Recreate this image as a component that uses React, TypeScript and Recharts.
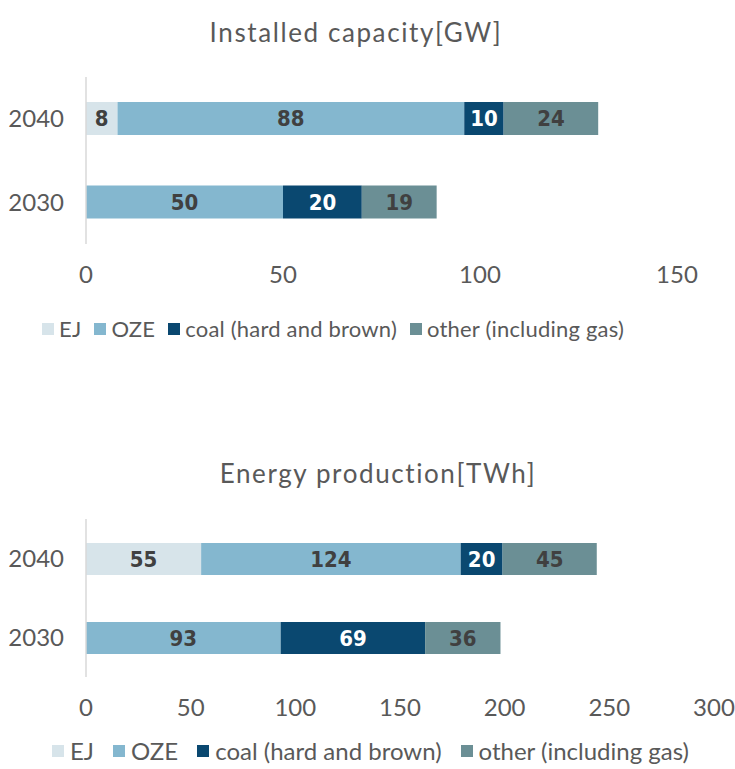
import React from "react";
import { Bar, BarChart, LabelList, XAxis, YAxis } from "recharts";

const years = ["2040", "2030"];

const seriesNames = ["EJ", "OZE", "coal (hard and brown)", "other (including gas)"];
const seriesKeys = ["ej", "oze", "coal", "other"];
const seriesColors = ["#d7e4ea", "#84b7cf", "#0a4870", "#6b8f95"];
const labelColors = ["#404040", "#404040", "#ffffff", "#404040"];

// installed capacity [GW], per year (2040, 2030)
const capEj = [8, 0];
const capOze = [88, 50];
const capCoal = [10, 20];
const capOther = [24, 19];
const capTicks = [0, 50, 100, 150];

// energy production [TWh]
const prodEj = [55, 0];
const prodOze = [124, 93];
const prodCoal = [20, 69];
const prodOther = [45, 36];
const prodTicks = [0, 50, 100, 150, 200, 250, 300];

const buildRows = (ej: number[], oze: number[], coal: number[], other: number[]) =>
  years.map((year, i) => ({ year, ej: ej[i], oze: oze[i], coal: coal[i], other: other[i] }));

const capData = buildRows(capEj, capOze, capCoal, capOther);
const prodData = buildRows(prodEj, prodOze, prodCoal, prodOther);

const font = "Lato, 'Open Sans', sans-serif";
const textGray = "#595959";

function Legend({ top, left, fontSize, gap, iconGap, spacing }: { top: number; left: number; fontSize: number; gap: number; iconGap: number; spacing: number }) {
  return (
    <div
      style={{
        position: "absolute",
        top,
        left,
        display: "flex",
        alignItems: "center",
        fontFamily: font,
        fontSize,
        letterSpacing: spacing,
        color: textGray,
        whiteSpace: "nowrap",
        lineHeight: 1,
      }}
    >
      {seriesNames.map((name, i) => (
        <div key={name} style={{ display: "flex", alignItems: "center", marginRight: gap }}>
          <span style={{ width: 12, height: 12, background: seriesColors[i], marginRight: iconGap, display: "inline-block" }} />
          <span>{name}</span>
        </div>
      ))}
    </div>
  );
}

function Title({ text, top, center }: { text: string; top: number; center: number }) {
  return (
    <div
      style={{
        position: "absolute",
        top,
        left: center - 300,
        width: 600,
        textAlign: "center",
        fontFamily: font,
        fontSize: 26,
        letterSpacing: 1.6,
        color: textGray,
        lineHeight: 1,
      }}
    >
      {text}
    </div>
  );
}

function Panel({
  data,
  ticks,
  height,
  marginTop,
  marginRight,
  barSize,
}: {
  data: any[];
  ticks: number[];
  height: number;
  marginTop: number;
  marginRight: number;
  barSize: number;
}) {
  return (
    <BarChart
      width={735}
      height={height}
      data={data}
      layout="vertical"
      margin={{ top: marginTop, right: marginRight, left: 0, bottom: 0 }}
    >
      <XAxis
        type="number"
        domain={[ticks[0], ticks[ticks.length - 1]]}
        ticks={ticks}
        axisLine={false}
        tickLine={false}
        tickMargin={16}
        height={56}
        interval={0}
        tick={{ fill: textGray, fontSize: 24, fontFamily: font }}
      />
      <YAxis
        type="category"
        dataKey="year"
        width={86}
        axisLine={{ stroke: "#d9d9d9", strokeWidth: 1.5 }}
        tickLine={false}
        tickMargin={16}
        tick={{ fill: textGray, fontSize: 24, fontFamily: font }}
      />
      {seriesKeys.map((key, i) => (
        <Bar key={key} dataKey={key} stackId="a" fill={seriesColors[i]} barSize={barSize} isAnimationActive={false}>
          <LabelList
            dataKey={key}
            position="center"
            formatter={(v: any) => (v ? v : "")}
            style={{ fill: labelColors[i], fontSize: 22, fontWeight: 700, fontFamily: "'DejaVu Sans Condensed', 'DejaVu Sans', sans-serif" }}
          />
        </Bar>
      ))}
    </BarChart>
  );
}

export default function App() {
  return (
    <div style={{ position: "absolute", left: 0, top: 0, width: 735, height: 769, background: "#fff", overflow: "hidden" }}>
      <Title text="Installed capacity[GW]" top={19} center={356} />
      <div style={{ position: "absolute", top: 0, left: 0 }}>
        <Panel data={capData} ticks={capTicks} height={300} marginTop={77} marginRight={58} barSize={33} />
      </div>
      <Legend top={318} left={42} fontSize={22} spacing={0.2} gap={13} iconGap={5} />

      <Title text="Energy production[TWh]" top={460} center={378} />
      <div style={{ position: "absolute", top: 440, left: 0 }}>
        <Panel data={prodData} ticks={prodTicks} height={293} marginTop={79} marginRight={21} barSize={32} />
      </div>
      <Legend top={739} left={52} fontSize={24} spacing={0} gap={19} iconGap={6} />
    </div>
  );
}
